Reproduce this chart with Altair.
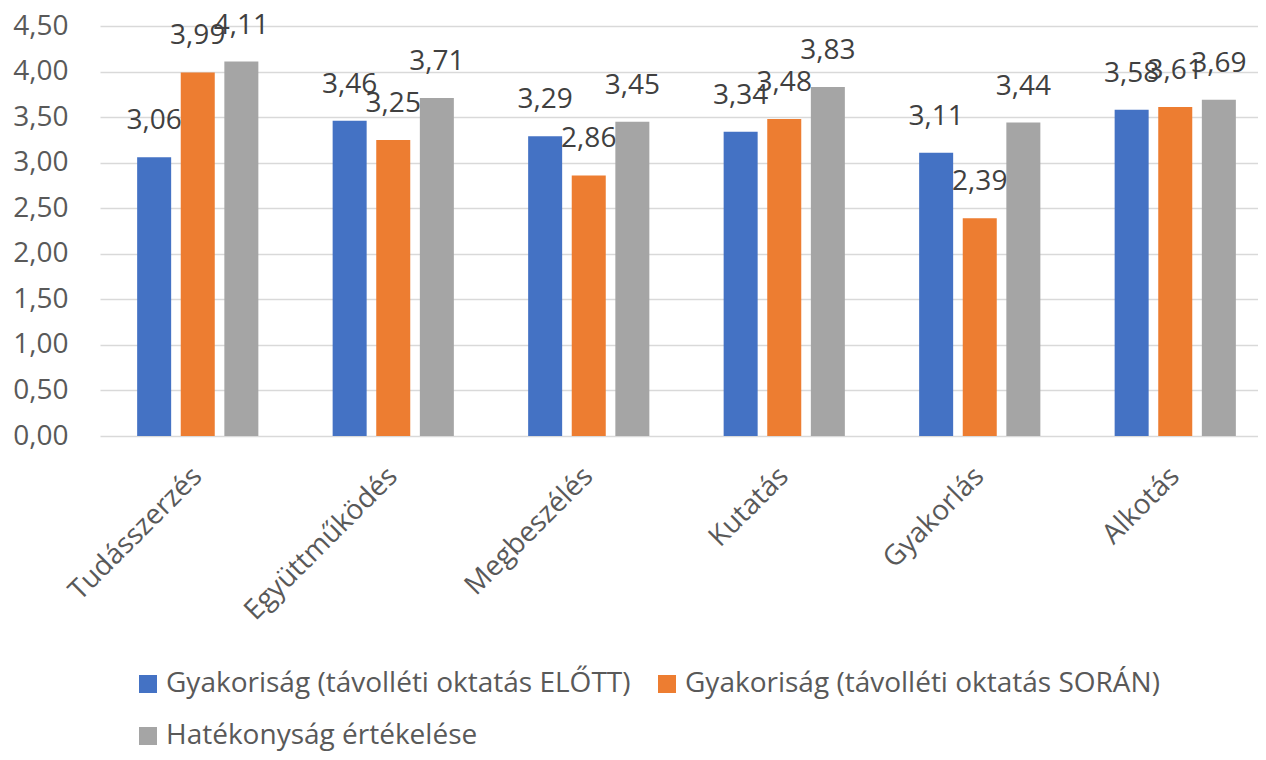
import altair as alt
import pandas as pd

categories = ["Tudásszerzés", "Együttműködés", "Megbeszélés", "Kutatás", "Gyakorlás", "Alkotás"]
series = [
    "Gyakoriság (távolléti oktatás ELŐTT)",
    "Gyakoriság (távolléti oktatás SORÁN)",
    "Hatékonyság értékelése",
]
elott = [3.06, 3.46, 3.29, 3.34, 3.11, 3.58]
soran = [3.99, 3.25, 2.86, 3.48, 2.39, 3.61]
hatekonysag = [4.11, 3.71, 3.45, 3.83, 3.44, 3.69]
colors = ["#4472C4", "#ED7D31", "#A5A5A5"]
y_ticks = [0, 0.5, 1.0, 1.5, 2.0, 2.5, 3.0, 3.5, 4.0, 4.5]

rows = []
for vals, s in zip([elott, soran, hatekonysag], series):
    for c, v in zip(categories, vals):
        rows.append({"cat": c, "series": s, "value": v})
df = pd.DataFrame(rows)

FONT = "Open Sans"
FS = 28

x_enc = alt.X(
    "cat:N",
    sort=categories,
    scale=alt.Scale(range=[0, 1173], paddingInner=0.38, paddingOuter=0.19),
    axis=alt.Axis(
        title=None,
        labelAngle=-45,
        labelAlign="right",
        labelBaseline="middle",
        labelPadding=36,
        labelFontSize=FS,
        labelColor="#595959",
        labelFont=FONT,
        labelLimit=600,
        domain=False,
        ticks=False,
        grid=False,
    ),
)
xoff = alt.XOffset("series:N", sort=series, scale=alt.Scale(paddingInner=0.22, paddingOuter=0))

base = alt.Chart(df)

bars = base.mark_bar().encode(
    x=x_enc,
    xOffset=xoff,
    y=alt.Y(
        "value:Q",
        scale=alt.Scale(domain=[0, 4.5], nice=False),
        axis=alt.Axis(
            title=None,
            values=y_ticks,
            labelExpr="replace(format(datum.value, '.2f'), '.', ',')",
            labelFontSize=FS,
            labelColor="#595959",
            labelFont=FONT,
            labelPadding=32,
            domain=False,
            ticks=False,
            grid=True,
            gridColor="#D9D9D9",
            gridWidth=1.5,
        ),
    ),
    color=alt.Color(
        "series:N",
        sort=series,
        scale=alt.Scale(domain=series, range=colors),
        legend=alt.Legend(
            title=None,
            orient="none",
            direction="horizontal",
            legendX=34,
            legendY=644,
            padding=0,
            columns=2,
            columnPadding=22,
            rowPadding=24,
            symbolType="square",
            symbolSize=324,
            symbolStrokeWidth=0,
            labelFontSize=FS,
            labelFont=FONT,
            labelColor="#595959",
            labelOffset=4,
            labelLimit=800,
        ),
    ),
)

labels = base.transform_calculate(
    lbl="replace(format(datum.value, '.2f'), '.', ',')"
).mark_text(
    baseline="middle", align="center", dy=-36, fontSize=FS, font=FONT, color="#404040"
).encode(
    x=alt.X("cat:N", sort=categories),
    xOffset=alt.XOffset("series:N", sort=series),
    y="value:Q",
    text="lbl:N",
)

chart = (
    alt.layer(bars, labels)
    .properties(
        width=1158,
        height=410,
        padding={"left": 92, "top": 18, "right": 0, "bottom": 316},
        autosize=alt.AutoSizeParams(type="none"),
    )
    .configure_view(stroke=None)
)

chart.save("out.html", embed_options={"renderer": "svg", "actions": False})
